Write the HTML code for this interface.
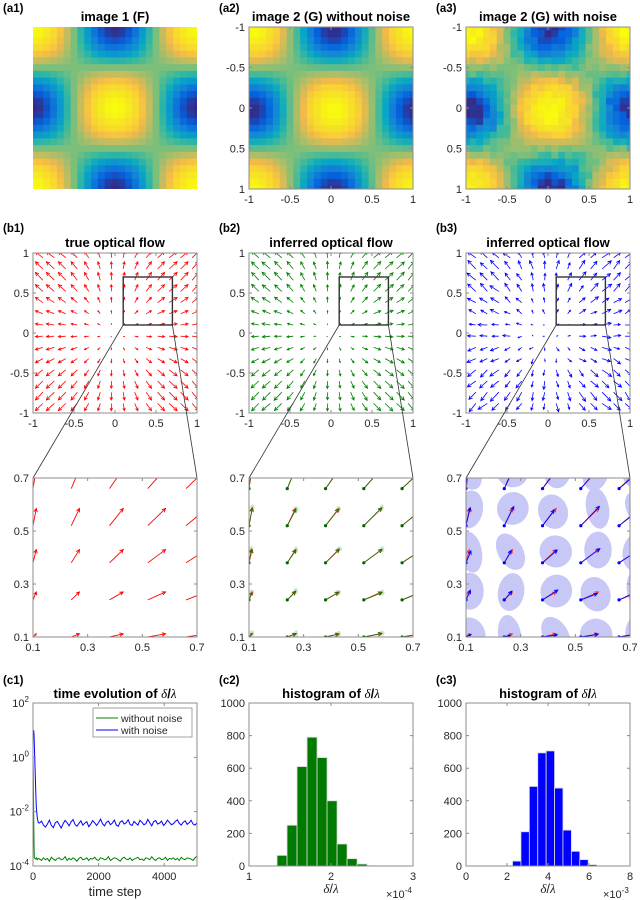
<!DOCTYPE html>
<html><head><meta charset="utf-8"><style>
html,body{margin:0;padding:0;background:#fff;}
svg{display:block;font-family:"Liberation Sans",sans-serif;}
.tk{font-size:11px;fill:#262626;}
.ti{font-size:13px;font-weight:bold;fill:#000;}
.pl{font-size:11.5px;font-weight:bold;fill:#000;}
.mt{font-family:"Liberation Serif",serif;font-style:italic;}
</style></head><body>
<svg id="fig" width="640" height="900" viewBox="0 0 640 900">
<defs>
<clipPath id="cA0"><rect x="33" y="27" width="164" height="162"/></clipPath>
<clipPath id="cA1"><rect x="249" y="27" width="164" height="162"/></clipPath>
<clipPath id="cA2"><rect x="466" y="27" width="164" height="162"/></clipPath>
<clipPath id="cB0"><rect x="33" y="253" width="164" height="160"/></clipPath>
<clipPath id="cB1"><rect x="249" y="253" width="164" height="160"/></clipPath>
<clipPath id="cB2"><rect x="466" y="253" width="164" height="160"/></clipPath>
<clipPath id="cZ0"><rect x="33" y="478" width="164" height="159"/></clipPath>
<clipPath id="cZ1"><rect x="249" y="478" width="164" height="159"/></clipPath>
<clipPath id="cZ2"><rect x="466" y="478" width="164" height="159"/></clipPath>
<clipPath id="cC0"><rect x="33" y="703" width="164" height="163"/></clipPath>
</defs>
<text class="pl" x="3" y="12">(a1)</text>
<text class="pl" x="219" y="12">(a2)</text>
<text class="pl" x="436" y="12">(a3)</text>
<text class="ti" x="115" y="21" text-anchor="middle">image 1 (F)</text>
<text class="ti" x="331" y="21" text-anchor="middle">image 2 (G) without noise</text>
<text class="ti" x="548" y="21" text-anchor="middle">image 2 (G) with noise</text>
<text class="pl" x="3" y="232">(b1)</text>
<text class="pl" x="219" y="232">(b2)</text>
<text class="pl" x="436" y="232">(b3)</text>
<text class="ti" x="115" y="247" text-anchor="middle">true optical flow</text>
<text class="ti" x="331" y="247" text-anchor="middle">inferred optical flow</text>
<text class="ti" x="548" y="247" text-anchor="middle">inferred optical flow</text>
<text class="pl" x="3" y="684">(c1)</text>
<text class="pl" x="219" y="684">(c2)</text>
<text class="pl" x="436" y="684">(c3)</text>
<text class="ti" x="115" y="698" text-anchor="middle">time evolution of <tspan class="mt" font-weight="normal">δ</tspan>/<tspan class="mt" font-weight="normal">λ</tspan></text>
<text class="ti" x="331" y="698" text-anchor="middle">histogram of <tspan class="mt" font-weight="normal">δ</tspan>/<tspan class="mt" font-weight="normal">λ</tspan></text>
<text class="ti" x="548" y="698" text-anchor="middle">histogram of <tspan class="mt" font-weight="normal">δ</tspan>/<tspan class="mt" font-weight="normal">λ</tspan></text>
<text x="115" y="896" text-anchor="middle" font-size="13" fill="#262626">time step</text>
<text x="331" y="893" text-anchor="middle" font-size="13" fill="#262626"><tspan class="mt">δ</tspan>/<tspan class="mt">λ</tspan></text>
<text x="548" y="893" text-anchor="middle" font-size="13" fill="#262626"><tspan class="mt">δ</tspan>/<tspan class="mt">λ</tspan></text>
<text x="386" y="898" font-size="11" fill="#262626">×10<tspan font-size="8" dy="-5">-4</tspan></text>
<text x="603" y="898" font-size="11" fill="#262626">×10<tspan font-size="8" dy="-5">-3</tspan></text>
<g id="content"></g>
</svg>
<script>
// ---------- data ----------
const gridPts=[-0.88,-0.74,-0.6,-0.46,-0.32,-0.18,-0.04,0.1,0.24,0.38,0.52,0.66,0.8,0.94];
const flowU=[-0.07,-0.075,-0.07,-0.058,-0.04,-0.022,-0.005,0.012,0.03,0.05,0.065,0.075,0.07,0.06];
const flowV=[-0.07,-0.075,-0.07,-0.058,-0.04,-0.022,-0.005,0.012,0.03,0.05,0.065,0.075,0.07,0.06];
const errGu=[0.002,-0.003,0.001,0.003,-0.002,0.0,0.002,-0.001,0.003,-0.002,0.001,-0.003,0.002,0.0];
const errGv=[-0.002,0.001,0.003,-0.001,0.002,-0.003,0.0,0.002,-0.002,0.001,0.003,-0.001,-0.002,0.002];
const errBu=[0.008,-0.012,0.005,0.014,-0.009,0.003,-0.006,0.011,-0.013,0.007,-0.004,0.01,-0.008,0.006];
const errBv=[-0.01,0.006,0.013,-0.007,0.004,-0.012,0.009,-0.003,0.011,-0.009,0.005,-0.006,0.012,-0.004];
const ellRx=[0.045,0.04,0.05,0.035,0.048,0.042,0.038];
const ellRy=[0.055,0.06,0.05,0.065,0.052,0.058,0.062];
const ellAng=[-20,10,30,-10,20,0,-30];
const imgNoise=[0.06,-0.05,0.02,-0.08,0.07,-0.02,0.04,-0.06,0.01,0.08,-0.04,0.03,-0.07,0.05,-0.01,0.06,-0.03,0.02,-0.09,0.04,0.0,-0.05,0.07,-0.02,0.03];
const histC2Edges0=1.342, histC2Width=0.122;
const histC2Counts=[65,250,610,790,665,400,135,45,12,2];
const histC3Edges0=2.27, histC3Width=0.41;
const histC3Counts=[30,210,488,694,706,478,220,90,39,8];
const transT=[0,10,20,30,40,60,80,100,130,160];
const transBlue=[5,8,10,7,3,0.5,0.08,0.015,0.006,0.004];
const transGreen=[1,0.2,0.01,0.0008,0.0002,0.00019,0.00018,0.0002,0.00017,0.00019];
const steadyStart=200, steadyStep=60;
const steadyBlue=[3.8,4.5,3.2,2.7,3.5,4.9,3.1,2.6,3.9,4.4,3.3,2.5,3.6,4.8,3.9,3.0,4.2,5.1,3.4,2.9,3.7,4.6,3.2,3.8,4.3,2.8,3.5,4.7,3.9,3.1,4.0,5.3,3.6,3.0,4.1,4.5,3.3,3.8,4.9,3.2,2.9,4.2,4.6,3.5,3.9,5.0,3.4,3.1,4.4,3.7,3.2,4.8,4.1,3.3,3.6,5.2,3.9,3.0,4.3,4.7,3.5,3.8,4.5,3.1,3.7,4.9,4.0,3.3,3.6,4.4,5.0,3.7,3.2,4.1,4.6,3.4,3.9,4.8,3.5,3.2,3.9];
const steadyGreen=[1.8,1.6,2.0,1.7,1.9,1.5,2.1,1.8,1.6,1.9,2.0,1.7,1.8,2.2,1.6,1.9,1.7,2.0,1.8,1.5,1.9,2.1,1.7,1.8,2.0,1.6,1.9,1.8,2.1,1.7,1.6,2.0,1.9,1.7,1.8,2.2,1.6,1.8,2.0,1.9,1.7,1.5,1.9,2.1,1.8,1.7,2.0,1.6,1.8,1.9,2.1,1.7,1.8,1.6,2.0,1.9,1.7,2.2,1.8,1.6,1.9,2.0,1.7,1.8,2.1,1.6,1.9,1.8,2.0,1.7,1.9,1.6,2.1,1.8,1.7,2.0,1.9,1.8,1.6,2.0,2.3];
const abTicks=[-1,-0.5,0,0.5,1], abTickLabels=['-1','-0.5','0','0.5','1'];
const zTicks=[0.1,0.3,0.5,0.7], zTickLabels=['0.1','0.3','0.5','0.7'];
const c1XTicks=[0,2000,4000], c1YTicks=[-4,-2,0,2];
const c2XTicks=[1,2,3], c3XTicks=[0,2,4,6,8], cHistYTicks=[0,200,400,600,800,1000];

// ---------- helpers ----------
const root=document.getElementById('content');
function add(p,h){p.insertAdjacentHTML('beforeend',h);return p.lastElementChild;}
function lin(d0,d1,r0,r1){return v=>r0+(v-d0)/(d1-d0)*(r1-r0);}
const COLS=[[33,197],[249,413],[466,630]];
const parula=[[53,42,135],[3,99,225],[20,133,212],[6,167,198],[56,185,158],[124,191,123],[183,189,100],[241,185,74],[250,210,52],[245,228,35],[249,251,14]];
function cmap(t){t=Math.max(0,Math.min(1,t))*10;const i=Math.min(9,Math.floor(t)),f=t-i;const a=parula[i],b=parula[i+1];return 'rgb('+a.map((c,k)=>Math.round(c+(b[k]-c)*f)).join(',')+')';}
function frame(g,x0,x1,y0,y1,name){
  const r=add(g,`<rect x="${x0}" y="${y0}" width="${x1-x0}" height="${y1-y0}" fill="none" stroke="#8c8c8c" stroke-width="1"/>`);
  
  
}
function ticks(g,x0,x1,y0,y1,xv,sx,xl,yv,sy,yl,showLabels,name){
  xv.forEach((v,i)=>{const x=sx(v);
    const t=add(g,`<path d="M${x},${y1}v-3M${x},${y0}v3" stroke="#8c8c8c" stroke-width="1"/>`);
    
    
    if(showLabels){const l=add(g,`<text class="tk" x="${x}" y="${y1+14}" text-anchor="middle">${xl[i]}</text>`);
      
      }
  });
  yv.forEach((v,i)=>{const y=sy(v);
    const t=add(g,`<path d="M${x0},${y}h3M${x1},${y}h-3" stroke="#8c8c8c" stroke-width="1"/>`);
    
    
    if(showLabels){const l=add(g,`<text class="tk" x="${x0-4}" y="${y+4}" text-anchor="end">${yl[i]}</text>`);
      
      }
  });
}
function arrow(g,x,y,x2,y2,col,w,name){
  const dx=x2-x,dy=y2-y,L=Math.hypot(dx,dy)||1,ux=dx/L,uy=dy/L,h=Math.min(3.5,L*0.35);
  const ax=x2-h*ux+h*0.5*uy, ay=y2-h*uy-h*0.5*ux, bx=x2-h*ux-h*0.5*uy, by=y2-h*uy+h*0.5*ux;
  const a=add(g,`<path d="M${x},${y}L${x2},${y2}M${ax},${ay}L${x2},${y2}L${bx},${by}" stroke="${col}" stroke-width="${w}" fill="none"/>`);
  
  
}

// ---------- row a: images ----------
[0,1,2].forEach(p=>{
  const [x0,x1]=COLS[p],y0=27,y1=189;
  const g=add(root,`<g clip-path="url(#cA${p})"></g>`);
  
  
  const sx=lin(-1,1,x0,x1),sy=lin(-1,1,y0,y1);
  const sh=p===0?0:0.03;
  for(let i=0;i<25;i++)for(let j=0;j<25;j++){
    const cx=-1+i/12,cy=-1+j/12;
    let v=(Math.cos(Math.PI*(cx-sh))*Math.cos(Math.PI*(cy-sh))+1)/2;
    if(p===2)v+=imgNoise[(i*7+j*11)%25]*0.45+imgNoise[(j*5+i*3)%25]*0.3;
    const c=add(g,`<rect x="${sx(cx-1/24)}" y="${sy(cy-1/24)}" width="${(x1-x0)/24+0.6}" height="${(y1-y0)/24+0.6}" fill="${cmap(v)}"/>`);
    
    
  }
  const ga=add(root,'<g></g>');
  
  
  if(p>0){ticks(ga,x0,x1,y0,y1,abTicks,sx,abTickLabels,abTicks,sy,abTickLabels,true,'a'+(p+1));frame(ga,x0,x1,y0,y1,'plot-frame-a'+(p+1));}
});

// ---------- row b + zoom row ----------
const colors=['#ff0000','#008000','#0000ff'];
[0,1,2].forEach(p=>{
  const [x0,x1]=COLS[p];
  const by0=253,by1=413;
  const sx=lin(-1,1,x0,x1),sy=lin(-1,1,by1,by0);
  const g=add(root,`<g clip-path="url(#cB${p})"></g>`);
  
  
  const K=1.3;
  gridPts.forEach((gx,i)=>gridPts.forEach((gy,j)=>{
    let u=flowU[i],v=flowV[j];
    if(p===1){u+=errGu[(i+2*j)%14];v+=errGv[(2*i+j)%14];}
    if(p===2){u+=errBu[(i+2*j)%14];v+=errBv[(2*i+j)%14];}
    arrow(g,sx(gx),sy(gy),sx(gx+u*K),sy(gy+v*K),colors[p],0.8,'flow-arrow');
  }));
  const ga=add(root,'<g></g>');
  
  
  ticks(ga,x0,x1,by0,by1,abTicks,sx,abTickLabels,abTicks,sy,abTickLabels,true,'b'+(p+1));
  frame(ga,x0,x1,by0,by1,'plot-frame-b'+(p+1));
  const box=add(ga,`<rect x="${sx(0.1)}" y="${sy(0.7)}" width="${sx(0.7)-sx(0.1)}" height="${sy(0.1)-sy(0.7)}" fill="none" stroke="#333" stroke-width="1.4"/>`);
  
  
  const zy0=478,zy1=637;
  const zx=lin(0.1,0.7,x0,x1),zy=lin(0.1,0.7,zy1,zy0);
  const cl=add(root,`<path d="M${sx(0.1)},${sy(0.1)}L${x0},${zy0}M${sx(0.7)},${sy(0.1)}L${x1},${zy0}" stroke="#333" stroke-width="0.8" fill="none"/>`);
  
  
  const gz=add(root,`<g clip-path="url(#cZ${p})"></g>`);
  
  
  gridPts.forEach((gx,i)=>gridPts.forEach((gy,j)=>{
    if(gx<0.05||gx>0.75||gy<0.05||gy>0.75)return;
    const u=flowU[i],v=flowV[j];
    if(p===0){arrow(gz,zx(gx),zy(gy),zx(gx+u),zy(gy+v),'#ff0000',0.9,'true-flow-arrow');return;}
    const k=(i*3+j*5)%7;
    let eu,ev,col;
    if(p===1){eu=u+errGu[(i+2*j)%14];ev=v+errGv[(2*i+j)%14];col='#2f6a00';
      const e=add(gz,`<ellipse cx="${zx(gx+eu)}" cy="${zy(gy+ev)}" rx="${ellRx[k]*0.2*273}" ry="${ellRy[k]*0.2*265}" fill="rgba(0,150,0,0.22)"/>`);
      
      
    } else {eu=u+errBu[(i+2*j)%14]*0.6;ev=v+errBv[(2*i+j)%14]*0.6;col='#0000ff';
      const ex=zx(gx+eu*0.9),ey=zy(gy+ev*0.9);
      const e=add(gz,`<ellipse cx="${ex}" cy="${ey}" rx="${ellRx[k]*273*1.2}" ry="${ellRy[k]*265*1.2}" transform="rotate(${ellAng[k]} ${ex} ${ey})" fill="#c8c8f6"/>`);
      
      
    }
    arrow(gz,zx(gx),zy(gy),zx(gx+u),zy(gy+v),'#ff3030',0.9,'true-flow-arrow');
    arrow(gz,zx(gx),zy(gy),zx(gx+eu),zy(gy+ev),col,0.9,'inferred-flow-arrow');
    const d=add(gz,`<circle cx="${zx(gx)}" cy="${zy(gy)}" r="1.6" fill="${p===1?'#006400':'#0000ff'}"/>`);
    
    
  }));
  const gza=add(root,'<g></g>');
  
  
  ticks(gza,x0,x1,zy0,zy1,zTicks,zx,zTickLabels,zTicks,zy,zTickLabels,true,'zoom'+(p+1));
  frame(gza,x0,x1,zy0,zy1,'plot-frame-zoom'+(p+1));
});

// ---------- c1 ----------
(function(){
  const x0=33,x1=197,y0=703,y1=866;
  const sx=lin(0,5000,x0,x1),sy=lin(-4,2,y1,y0);
  const g=add(root,'<g clip-path="url(#cC0)"></g>');
  
  
  function series(tr,st,scale,col,name){
    const pts=[];
    tr.forEach((v,i)=>pts.push([sx(transT[i]),sy(Math.log10(v))]));
    st.forEach((v,i)=>pts.push([sx(steadyStart+i*steadyStep),sy(Math.log10(v*scale))]));
    const l=add(g,`<polyline points="${pts.map(p=>p.join(',')).join(' ')}" fill="none" stroke="${col}" stroke-width="1"/>`);
    
    
  }
  series(transGreen,steadyGreen,1e-4,'#008000','line-without-noise');
  series(transBlue,steadyBlue,1e-3,'#0000ff','line-with-noise');
  const ga=add(root,'<g></g>');
  
  
  ticks(ga,x0,x1,y0,y1,c1XTicks,sx,c1XTicks.map(String),c1YTicks,sy,c1YTicks.map(e=>`10<tspan font-size="8" dy="-5">${e}</tspan>`),true,'c1');
  frame(ga,x0,x1,y0,y1,'plot-frame-c1');
  const lg=add(root,'<g></g>');
  
  
  const lb=add(lg,'<rect x="93" y="708" width="99" height="29" fill="#fff" stroke="#8c8c8c" stroke-width="0.8"/>');
  
  
  const e1=add(lg,'<g><path d="M96,718h22" stroke="#008000"/><text x="121" y="722" font-size="10.5" fill="#262626">without noise</text></g>');
  
  
  const e2=add(lg,'<g><path d="M96,730h22" stroke="#0000ff"/><text x="121" y="734" font-size="10.5" fill="#262626">with noise</text></g>');
  
  
})();

// ---------- histograms ----------
function hist(x0,x1,dmin,dmax,e0,w,counts,col,xt,name){
  const y0=703,y1=866;
  const sx=lin(dmin,dmax,x0,x1),sy=lin(0,1000,y1,y0);
  const g=add(root,'<g></g>');
  
  
  counts.forEach((c,i)=>{
    const a=sx(e0+i*w),b=sx(e0+(i+1)*w);
    const r=add(g,`<rect x="${a}" y="${sy(c)}" width="${b-a}" height="${sy(0)-sy(c)}" fill="${col}" stroke="#d8d8d8" stroke-width="0.8"/>`);
    
    
  });
  ticks(g,x0,x1,y0,y1,xt,sx,xt.map(String),cHistYTicks,sy,cHistYTicks.map(String),true,name);
  frame(g,x0,x1,y0,y1,name+'-frame');
}
hist(249,413,1,3,histC2Edges0,histC2Width,histC2Counts,'#007a00',c2XTicks,'histogram-c2');
hist(466,630,0,8,histC3Edges0,histC3Width,histC3Counts,'#0000ff',c3XTicks,'histogram-c3');
</script>
</body></html>
